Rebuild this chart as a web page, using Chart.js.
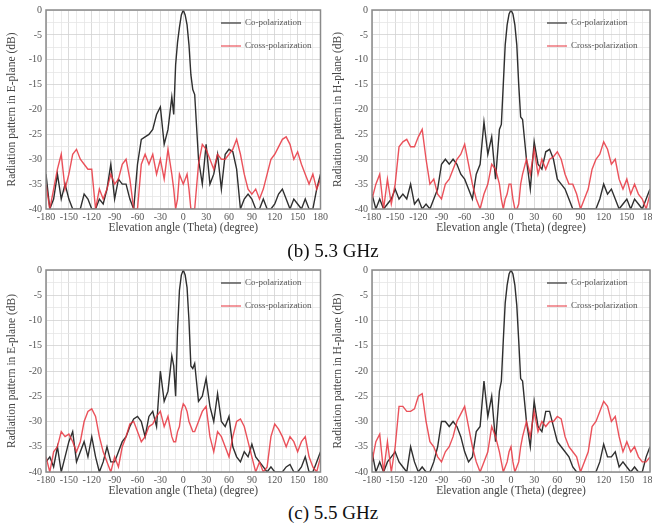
<!DOCTYPE html>
<html><head><meta charset="utf-8">
<script src="https://cdn.jsdelivr.net/npm/chart.js@4"></script>
<style>
html,body{margin:0;padding:0;width:652px;height:525px;overflow:hidden;background:#fff;}
canvas{position:absolute;}
.cap{position:absolute;left:0;width:666px;text-align:center;font-family:"Liberation Serif",serif;font-size:19px;color:#111;line-height:22px;}
</style></head><body>
<canvas id="eTop" width="330" height="236" style="left:0;top:0"></canvas>
<canvas id="hTop" width="336" height="236" style="left:326px;top:0"></canvas>
<canvas id="eBot" width="330" height="239" style="left:0;top:260px"></canvas>
<canvas id="hBot" width="336" height="239" style="left:326px;top:260px"></canvas>
<div class="cap" style="top:240px">(b) 5.3 GHz</div>
<div class="cap" style="top:502px">(c) 5.5 GHz</div>
<script>
const angles = [-180,-175,-170,-165,-160,-155,-150,-145,-140,-135,-130,-125,-120,-115,-110,-105,-100,-95,-90,-85,-80,-75,-70,-65,-60,-55,-50,-45,-40,-35,-30,-25,-20,-15,-12.5,-10,-7.5,-5,-2.5,0,2.5,5,7.5,10,12.5,15,20,25,30,35,40,45,50,55,60,65,70,75,80,85,90,95,100,105,110,115,120,125,130,135,140,145,150,155,160,165,170,175,180];
const xTickLabels = [-180,-150,-120,-90,-60,-30,0,30,60,90,120,150,180];
const yTickLabels = [0,-5,-10,-15,-20,-25,-30,-35,-40];
const seriesNames = ['Co-polarization','Cross-polarization'];

// 5.3 GHz, E-plane
const eCo53 = [-33,-40,-38,-33,-38,-35,-38,-40,-40,-40,-37,-38,-40,-40,-38,-39,-36,-31,-38,-34,-35,-35,-38,-40,-31,-26,-25.5,-25,-24,-21,-19.5,-27,-24,-17.5,-21,-11,-6.5,-3.5,-1,0,-1,-3,-7,-13,-16,-17,-30,-35,-27,-35,-33,-29,-36,-29,-28,-28.5,-32,-40,-38,-37,-38,-40,-40,-38,-40,-40,-39,-37,-36,-38,-40,-38,-39,-40,-38,-40,-40,-36,-33];
const eX53 = [-35,-40,-36,-32,-29,-36,-33,-29,-28,-30,-31,-32,-32,-40,-36,-38,-36,-33,-35,-34,-31,-30,-34,-40,-40,-31,-29,-31,-29,-33,-30,-34,-28,-33,-36,-40,-38,-33,-34,-35,-34,-33,-36,-40,-40,-40,-31,-27,-28,-30,-32,-29,-30,-30,-29,-28,-26,-29,-33,-36,-37,-36,-38,-36,-33,-30,-29,-27.5,-26,-25.5,-27,-30,-28.5,-31,-33,-35,-33,-36,-34];
// 5.3 GHz, H-plane
const hCo53 = [-37,-40,-38,-40,-39,-38,-36,-38,-37,-38,-35,-39,-38,-40,-39,-40,-38,-36,-31,-30,-31,-30,-31,-33,-34,-36,-38,-33,-31,-22.5,-29,-25.5,-34,-24,-23,-15,-7,-3,-0.8,0,-0.8,-3,-7,-15,-21.5,-22,-30,-36,-26.5,-31,-32,-28.5,-28,-30,-34,-35,-36,-38,-40,-40,-40,-40,-40,-40,-40,-38,-35,-37,-36,-38,-40,-39,-38,-40,-38,-39,-40,-38,-36];
const hX53 = [-38,-35,-33,-40,-34,-39,-35,-27.5,-26.5,-26,-27.5,-27.5,-25.5,-24,-30,-35,-34,-37,-38,-35,-34,-32,-30,-29,-27,-31,-35,-38,-40,-37,-35,-31,-32,-35,-38,-40,-38,-37,-35,-35,-38,-40,-40,-39,-35,-33,-30,-33,-28,-33,-30,-32,-30,-29.5,-28.5,-30,-33,-35,-35,-37,-40,-38,-36,-32,-30,-29,-26.5,-28,-31,-30,-34,-36,-34,-37,-35,-37,-38,-40,-37];
// 5.5 GHz, E-plane
const eCo55 = [-38,-37,-39,-35,-40,-37,-34,-32,-38,-36,-34,-37,-33,-37,-40,-38,-35,-38,-38,-36,-34,-33,-31,-29.5,-29,-30,-33,-29,-28,-31,-20,-26,-24,-17,-19,-25,-12,-4,-1,0,-1,-3.5,-10,-19,-19.5,-18.5,-26,-25,-21.5,-27,-30,-24.5,-30,-31,-29,-35,-37,-38,-36,-37,-34.5,-37,-38,-39,-40,-39,-40,-40,-40,-39,-38.5,-40,-40,-39,-37,-40,-40,-38,-36];
const eX55 = [-37,-40,-36,-35,-32,-33,-32.5,-34,-36,-34,-30,-28,-27.5,-29,-33,-36,-38,-40,-37,-39,-35,-33,-30.5,-30,-32,-34,-33,-31,-30.5,-29,-28,-31,-29,-33,-34,-34,-32,-31,-28,-26.5,-27,-28,-30,-31,-32,-32,-30,-28,-27,-33,-36,-32,-33,-35,-37,-33,-30,-29.5,-31,-34,-37,-40,-38,-40,-39,-33,-30.5,-31.5,-33,-35,-33,-34,-36,-34,-33,-37,-39,-40,-37];
// 5.5 GHz, H-plane
const hCo55 = [-36,-40,-38,-40,-38,-37,-36,-38,-39,-40,-35,-38,-40,-39,-40,-40,-38,-35,-30,-30,-31,-30,-31,-33,-36,-38,-37,-32,-31,-22,-29,-25,-34,-24,-22,-14,-6.5,-3,-0.8,0,-0.8,-3,-7,-14,-21.5,-22,-30,-35,-26,-31,-32,-28,-28,-31,-34,-35,-36,-37,-39,-40,-40,-40,-40,-40,-40,-38,-34.5,-37,-37,-36,-39,-38,-39,-40,-39,-40,-40,-37,-35];
const hX55 = [-38,-34,-32.5,-40,-34,-40,-35,-27,-27,-28,-28,-27.5,-25,-24.5,-30,-34,-35,-37,-38,-36,-35,-33,-30,-28.5,-27,-31,-35,-38,-40,-38,-36,-31,-33,-36,-38,-40,-39,-38,-36,-35,-38,-40,-39,-38,-35,-33,-30,-33,-28,-32,-30,-31,-30,-30,-29,-29.5,-33,-35,-36,-37,-40,-38,-36,-31,-30,-28,-26,-27,-30,-29,-33,-36,-34,-36,-35,-37,-38,-38,-37];

const FONT = '"Liberation Serif", serif';
const CO_COLOR = '#2f2f2f';
const X_COLOR = 'rgba(232,52,62,0.85)';

const framePlugin = {
  id: 'frame',
  afterDraw(chart) {
    const {ctx, chartArea: a} = chart;
    ctx.save();
    ctx.strokeStyle = '#8a8a8a';
    ctx.lineWidth = 1.5;
    ctx.strokeRect(a.left, a.top, a.right - a.left, a.bottom - a.top);
    ctx.restore();
  }
};
const legendPlugin = {
  id: 'inlegend',
  afterDraw(chart) {
    const {ctx, chartArea: a} = chart;
    ctx.save();
    ctx.font = '9px ' + FONT;
    ctx.textBaseline = 'middle';
    chart.data.datasets.forEach((d, i) => {
      const y = a.top + 13 + i * 23;
      const x = a.left + 175;
      ctx.strokeStyle = d.borderColor;
      ctx.lineWidth = 1.2;
      ctx.beginPath(); ctx.moveTo(x, y); ctx.lineTo(x + 20, y); ctx.stroke();
      ctx.fillStyle = '#555';
      ctx.fillText(d.label, x + 24, y);
    });
    ctx.restore();
  }
};

function makeChart(id, plane, co, cx, padRight) {
  new Chart(document.getElementById(id), {
    type: 'line',
    data: {
      datasets: [
        {label: seriesNames[0], data: angles.map((a, i) => ({x: a, y: co[i]})), borderColor: CO_COLOR, borderWidth: 1.4, pointRadius: 0, tension: 0, order: 2},
        {label: seriesNames[1], data: angles.map((a, i) => ({x: a, y: cx[i]})), borderColor: X_COLOR, borderWidth: 1.4, pointRadius: 0, tension: 0, order: 1}
      ]
    },
    options: {
      responsive: false, animation: false,
      layout: {padding: {top: 9, right: padRight, bottom: 0, left: 0}},
      plugins: {legend: {display: false}, tooltip: {enabled: false}},
      scales: {
        x: {
          type: 'linear', min: -180, max: 180,
          ticks: {stepSize: 10, autoSkip: false, maxRotation: 0, minRotation: 0, padding: 2, color: '#555',
            font: {family: FONT, size: 10},
            callback: v => xTickLabels.includes(v) ? String(v) : ''},
          grid: {drawTicks: false, lineWidth: 0.8, color: c => (c.tick && c.tick.value % 30 === 0) ? '#d2d2d2' : '#e6e6e6'},
          border: {display: false},
          title: {display: true, text: 'Elevation angle (Theta) (degree)', color: '#444', font: {family: FONT, size: 11.5}, padding: {top: 0, bottom: 1}},
          afterFit: s => { s.height = 27; }
        },
        y: {
          min: -40, max: 0,
          ticks: {stepSize: 2.5, autoSkip: false, padding: 4, color: '#555', font: {family: FONT, size: 10},
            callback: v => yTickLabels.includes(v) ? String(v) : ''},
          grid: {drawTicks: false, lineWidth: 0.8, color: c => (c.tick && c.tick.value % 5 === 0) ? '#d2d2d2' : '#e6e6e6'},
          border: {display: false},
          title: {display: true, text: 'Radiation pattern in ' + plane + '-plane (dB)', color: '#444', font: {family: FONT, size: 11.5}, padding: {top: 5, bottom: 0}},
          afterFit: s => { s.width = 46; }
        }
      }
    },
    plugins: [framePlugin, legendPlugin]
  });
}

makeChart('eTop', 'E', eCo53, eX53, 7);
makeChart('hTop', 'H', hCo53, hX53, 12);
makeChart('eBot', 'E', eCo55, eX55, 7);
makeChart('hBot', 'H', hCo55, hX55, 12);
</script>
</body></html>
